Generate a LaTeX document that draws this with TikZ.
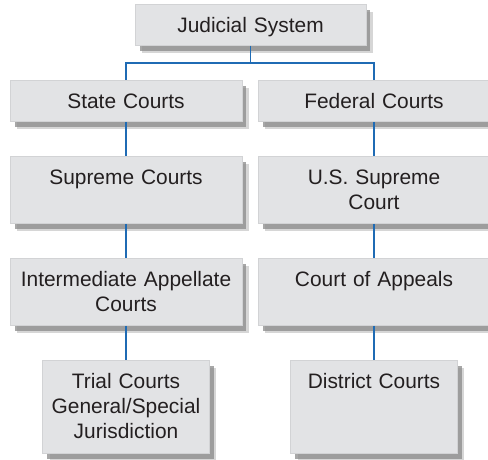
\documentclass[tikz,border=0pt]{standalone}
\usepackage{fontspec}
\setmainfont{Liberation Sans}
\usepackage{tikz}
\usetikzlibrary{
  positioning,
  shadows
}
\definecolor{boxFill}{HTML}{E2E3E5}
\definecolor{boxEdge}{HTML}{D2D3D5}
\definecolor{shadowGray}{HTML}{8A8A8A}
\definecolor{linkBlue}{HTML}{1F6BB4}
\definecolor{textGray}{HTML}{231F20}
\tikzstyle{court}=[draw=boxEdge, line width=0.5pt, fill=boxFill, inner sep=0pt,
  anchor=north, align=center, text=textGray,
  font=\fontsize{11.9}{14.2}\selectfont, text height=0.56cm,
  drop shadow={shadow xshift=0.14cm, shadow yshift=-0.16cm, fill=shadowGray, opacity=0.35},
  drop shadow={shadow xshift=0.09cm, shadow yshift=-0.11cm, fill=shadowGray, opacity=0.75}]
\tikzstyle{link}=[linkBlue, line width=1.1pt]

\begin{document}
\begin{tikzpicture}[x=0.02cm, y=-0.02cm]
      \def\lx{126};
      \def\rx{374};
      \def\wide{4.64cm};
      \def\narrow{3.34cm};

      \useasboundingbox (0,0) rectangle (488,460);

      % 一番上
      \node[court, text width=4.62cm, text depth=0.26cm] (judicial) at (250.5,4) {Judicial System};

      % 州と連邦
      \node[court, text width=\wide, text depth=0.26cm] (state) at (\lx,80) {State Courts};
      \node[court, text width=\wide, text depth=0.26cm] (federal) at (\rx,80) {Federal Courts};

      % 最上級の裁判所
      \node[court, text width=\wide, text depth=0.78cm] (stSupreme) at (\lx,156) {Supreme Courts};
      \node[court, text width=\wide, text depth=0.78cm] (usSupreme) at (\rx,156) {U.S. Supreme\\Court};

      % 控訴審
      \node[court, text width=\wide, text depth=0.78cm] (stAppeal) at (\lx,258) {Intermediate Appellate\\Courts};
      \node[court, text width=\wide, text depth=0.78cm] (usAppeal) at (\rx,258) {Court of Appeals};

      % 第一審
      \node[court, text width=\narrow, text depth=1.3cm] (trial) at (\lx,360) {Trial Courts\\General/Special\\Jurisdiction};
      \node[court, text width=\narrow, text depth=1.3cm] (district) at (\rx,360) {District Courts};

      % 枝分かれ
      \draw[link] (judicial.south) -- ++(0,17) -| (state.north);
      \draw[link] (judicial.south) -- ++(0,17) -| (federal.north);

      % 縦のつながり
      \draw[link] (state) -- (stSupreme);
      \draw[link] (stSupreme) -- (stAppeal);
      \draw[link] (stAppeal) -- (trial);
      \draw[link] (federal) -- (usSupreme);
      \draw[link] (usSupreme) -- (usAppeal);
      \draw[link] (usAppeal) -- (district);
    \end{tikzpicture}
\end{document}
